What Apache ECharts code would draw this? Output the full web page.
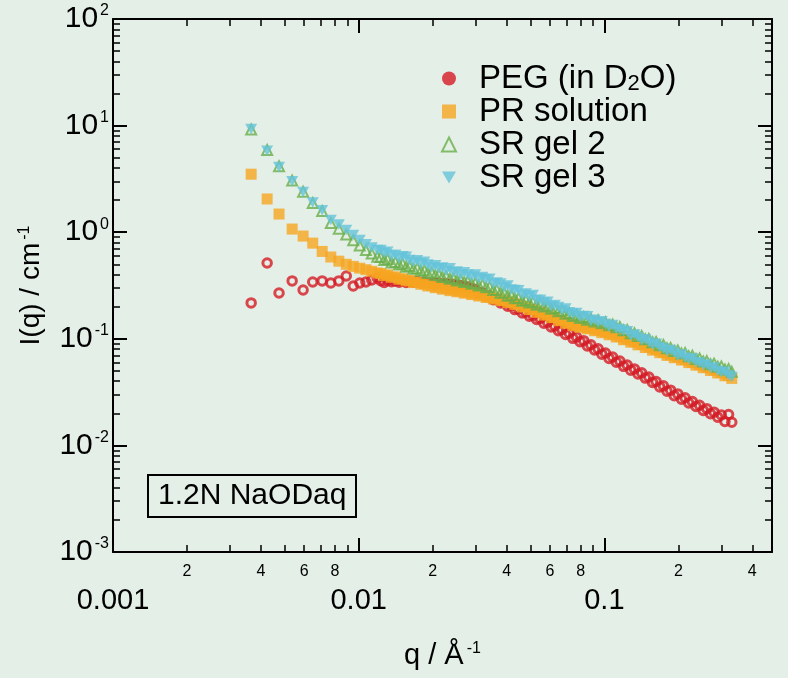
<!DOCTYPE html>
<html><head><meta charset="utf-8">
<script src="https://cdn.jsdelivr.net/npm/echarts@6/dist/echarts.min.js"></script>
<style>html,body{margin:0;padding:0;background:#e4efe7}#c{width:788px;height:678px}</style>
</head><body><div id="c"></div>
<script>
// ---- data ----
const q = [0.00365,0.00424,0.00474,0.00536,0.00594,0.0065,0.0071,0.0077,0.0083,0.0089,
0.0095,0.0101,0.0107,0.0113,0.0119,
0.0123,0.0127,0.0131,0.0136,0.0141,0.0146,0.0151,0.0156,0.0161,0.0167,
0.0173,0.0179,0.0185,0.0191,0.0198,0.0205,0.0212,0.0219,0.0227,0.0235,
0.0243,0.0251,0.026,0.0269,0.0278,0.0288,0.0298,0.0308,0.0319,0.033,
0.0341,0.0353,0.0365,0.0378,0.0391,0.0404,0.0418,0.0432,0.0447,0.0463,
0.0479,0.0495,0.0512,0.053,0.0548,0.0567,0.0587,0.0607,0.0628,0.065,
0.0672,0.0695,0.0719,0.0744,0.077,0.0796,0.0824,0.0852,0.0881,0.0912,
0.0943,0.0976,0.101,0.1045,0.108,0.1118,0.1156,0.1196,0.1238,0.128,
0.1325,0.137,0.1418,0.1467,0.1517,0.157,0.1624,0.168,0.1738,0.1798,
0.186,0.1924,0.199,0.2059,0.213,0.2204,0.228,0.2359,0.244,0.2525,
0.2612,0.2702,0.2795,0.2892,0.2992,0.3095,0.3202,0.33];
const pegI = [0.217,0.514,0.269,0.349,0.287,0.341,0.349,0.334,0.349,0.388,
0.313,0.334,0.341,0.356,0.372,
0.35,0.338,0.352,0.343,0.349,0.34,0.347,0.338,0.344,0.339,
0.345,0.336,0.341,0.334,0.338,0.331,0.334,0.327,0.329,0.322,
0.323,0.316,0.316,0.309,0.306,0.297,0.29,0.27,0.27,0.25,
0.253,0.233,0.236,0.217,0.22,0.202,0.205,0.188,0.191,0.175,
0.178,0.163,0.166,0.152,0.155,0.14,0.143,0.129,0.132,0.119,
0.122,0.11,0.113,0.101,0.104,0.094,0.096,0.0855,0.088,0.0785,
0.0805,0.0718,0.0735,0.0655,0.0675,0.0602,0.0618,0.0552,0.0568,0.0508,
0.0522,0.0468,0.048,0.0428,0.0438,0.039,0.0398,0.0354,0.0362,0.0322,
0.033,0.0293,0.0304,0.0271,0.028,0.025,0.0258,0.0232,0.0238,0.0213,
0.0221,0.0198,0.0205,0.0184,0.0193,0.0168,0.0195,0.0165];
const prI = [3.5,2.05,1.48,1.07,0.92,0.79,0.66,0.585,0.535,0.50,
0.478,0.46,0.445,0.43,0.415,
0.41,0.392,0.398,0.378,0.381,0.362,0.366,0.349,0.353,0.337,
0.34,0.325,0.328,0.313,0.316,0.302,0.306,0.292,0.297,0.283,
0.289,0.276,0.281,0.268,0.273,0.26,0.265,0.252,0.257,0.244,
0.249,0.236,0.24,0.228,0.23,0.219,0.221,0.209,0.212,0.199,
0.2,0.188,0.189,0.177,0.179,0.167,0.168,0.158,0.159,0.148,
0.15,0.14,0.141,0.133,0.135,0.128,0.131,0.124,0.126,0.119,
0.121,0.114,0.116,0.109,0.111,0.104,0.105,0.098,0.0995,0.093,
0.094,0.0878,0.0888,0.0828,0.0838,0.0783,0.0792,0.0741,0.0748,0.0699,
0.0708,0.0665,0.0674,0.0632,0.0638,0.0598,0.0603,0.0566,0.0571,0.0536,
0.054,0.0505,0.051,0.0478,0.0482,0.045,0.0455,0.0425];
const gel2I = [9.2,5.9,4.15,3.05,2.4,1.88,1.58,1.22,1.08,0.95,
0.84,0.75,0.68,0.63,0.59,
0.585,0.55,0.56,0.52,0.525,0.498,0.505,0.474,0.482,0.455,
0.46,0.436,0.44,0.415,0.42,0.397,0.401,0.38,0.387,0.366,
0.372,0.353,0.36,0.341,0.347,0.328,0.334,0.317,0.322,0.305,
0.307,0.287,0.289,0.27,0.272,0.254,0.257,0.24,0.241,0.228,
0.231,0.219,0.222,0.209,0.214,0.201,0.204,0.191,0.194,0.181,
0.184,0.172,0.175,0.164,0.167,0.157,0.16,0.151,0.154,0.145,
0.149,0.14,0.143,0.134,0.136,0.128,0.129,0.12,0.121,0.113,
0.113,0.106,0.106,0.099,0.0995,0.093,0.0935,0.087,0.0875,0.0815,
0.0822,0.077,0.0778,0.0728,0.0735,0.0686,0.0693,0.0648,0.0655,0.0612,
0.0618,0.0578,0.0585,0.0546,0.0551,0.0515,0.0522,0.049];
const gel3I = [9.3,5.8,4.1,3.0,2.38,1.9,1.61,1.30,1.18,1.05,
0.94,0.845,0.77,0.72,0.68,
0.68,0.64,0.655,0.605,0.615,0.57,0.595,0.59,0.55,0.525,
0.545,0.508,0.527,0.497,0.466,0.49,0.458,0.466,0.434,0.46,
0.422,0.428,0.398,0.42,0.401,0.385,0.401,0.368,0.38,0.361,
0.366,0.33,0.337,0.331,0.305,0.317,0.29,0.287,0.286,0.259,
0.266,0.25,0.258,0.231,0.233,0.219,0.223,0.202,0.207,0.199,
0.185,0.192,0.177,0.171,0.175,0.161,0.164,0.163,0.147,0.151,
0.142,0.146,0.138,0.13,0.135,0.124,0.123,0.119,0.118,0.107,
0.11,0.104,0.097,0.099,0.0935,0.0875,0.09,0.0835,0.0812,0.0765,
0.0785,0.0742,0.0695,0.0712,0.0668,0.0643,0.0652,0.0602,0.0598,0.0565,
0.0574,0.0531,0.0538,0.0502,0.0485,0.0492,0.0455,0.0438];
const seriesNames = ['PEG (in D2O)','PR solution','SR gel 2','SR gel 3'];
const xMajorLabels = ['0.001','0.01','0.1'];
const xDecades = [-3,-2,-1];
const xMinorTickDigits = [2,3,4,5,6,7,8,9];
const xMinorLabelDigits = [2,4,6,8];
const yExponents = [-3,-2,-1,0,1,2];
const yMinorTickDigits = [2,3,4,5,6,7,8,9];
const boxText = '1.2N NaODaq';

// ---- chart ----
const FONT = '"Liberation Sans", Arial, Helvetica, sans-serif';
const BG = '#e4efe7';
const RED = '#d41c25', ORANGE = '#f6a521', GREEN = '#6aaf4a', CYAN = '#64c3d9';
const DOWN_TRI = 'path://M0,0L20,0L10,17.3Z';
const xMin = 0.001, xMax = 0.481, yMin = 0.001, yMax = 100;
const xMaxLog = Math.log10(xMax);
function minorVals(decades, digits, maxLog) {
  const out = [];
  decades.forEach(d => digits.forEach(k => {
    const v = Math.log10(k) + d;
    if (v <= maxLog + 1e-9) out.push(v);
  }));
  return out;
}
const xMinorTicks = minorVals(xDecades, xMinorTickDigits, xMaxLog);
const xMinorLabels = minorVals(xDecades, xMinorLabelDigits, xMaxLog);
const yMinorTicks = minorVals(yExponents.slice(0, -1), yMinorTickDigits, 2);
const isDecade = v => Math.abs(Math.log10(v) - Math.round(Math.log10(v))) < 1e-6;

const black = '#000';
const majorTick = {show: true, inside: true, length: 14, lineStyle: {color: black, width: 2}};
const minorTickBase = {show: true, inside: true, length: 7, lineStyle: {color: black, width: 1.5}};
const frameLine = {show: true, onZero: false, lineStyle: {color: black, width: 2}};

const chart = echarts.init(document.getElementById('c'), null, {renderer: 'canvas'});
const mk = arr => q.map((x, i) => [x, arr[i]]);

const option = {
  backgroundColor: BG,
  animation: false,
  textStyle: {fontFamily: FONT},
  grid: {left: 113, right: 16, top: 19, bottom: 126, containLabel: false},
  title: {
    text: boxText, left: 148, top: 475,
    borderColor: black, borderWidth: 2, padding: [6, 10, 6, 10],
    textStyle: {fontSize: 30, fontWeight: 'normal', color: black, fontFamily: FONT}
  },
  legend: {
    orient: 'vertical', left: 436, top: 57, itemWidth: 14, itemHeight: 14, itemGap: 0,
    data: [
      {name: seriesNames[0], icon: 'circle', itemStyle: {color: RED, borderWidth: 0}},
      {name: seriesNames[1], icon: 'rect'},
      {name: seriesNames[2], icon: 'triangle', itemStyle: {color: BG, borderColor: GREEN, borderWidth: 2}},
      {name: seriesNames[3], icon: DOWN_TRI}
    ],
    formatter: name => name === seriesNames[0] ? '{a|PEG (in D}{s|2}{a|O)}' : '{a|' + name + '}',
    textStyle: {
      fontFamily: FONT, color: black, fontSize: 33, lineHeight: 33, height: 33, padding: [0, 0, 0, 18],
      rich: {
        a: {fontSize: 33, lineHeight: 33, fontFamily: FONT, color: black},
        s: {fontSize: 22, lineHeight: 33, verticalAlign: 'bottom', fontFamily: FONT, color: black}
      }
    }
  },
  xAxis: [
    {
      type: 'log', logBase: 10, min: xMin, max: xMax, position: 'bottom', gridIndex: 0,
      axisLine: frameLine, axisTick: majorTick, splitLine: {show: false}, minorTick: {show: false},
      axisLabel: {
        fontSize: 29, color: black, margin: 34, fontFamily: FONT,
        formatter: v => isDecade(v) ? xMajorLabels[Math.round(Math.log10(v)) + 3] || '' : ''
      },
      name: '{t|q / Å}{s|-1}', nameLocation: 'middle', nameGap: 89,
      nameTextStyle: {
        rich: {
          t: {fontSize: 29, color: black, fontFamily: FONT},
          s: {fontSize: 16, color: black, fontFamily: FONT, verticalAlign: 'top', padding: [0, 0, 12, 3]}
        }
      }
    },
    {
      type: 'value', min: -3, max: xMaxLog, position: 'bottom', gridIndex: 0,
      axisLine: {show: false, onZero: false},
      axisTick: Object.assign({}, minorTickBase, {customValues: xMinorTicks}),
      splitLine: {show: false},
      axisLabel: {
        show: true, customValues: xMinorLabels, fontSize: 16, color: black, margin: 12, fontFamily: FONT,
        formatter: v => String(Math.round(Math.pow(10, v - Math.floor(v + 1e-9))))
      }
    },
    {
      type: 'log', logBase: 10, min: xMin, max: xMax, position: 'top', gridIndex: 0,
      axisLine: frameLine, axisTick: majorTick, splitLine: {show: false}, axisLabel: {show: false}
    },
    {
      type: 'value', min: -3, max: xMaxLog, position: 'top', gridIndex: 0,
      axisLine: {show: false, onZero: false},
      axisTick: Object.assign({}, minorTickBase, {customValues: xMinorTicks}),
      splitLine: {show: false}, axisLabel: {show: false}
    }
  ],
  yAxis: [
    {
      type: 'log', logBase: 10, min: yMin, max: yMax, position: 'left', gridIndex: 0,
      axisLine: frameLine, axisTick: majorTick, splitLine: {show: false}, minorTick: {show: false},
      axisLabel: {
        margin: 4, color: black,
        formatter: v => '{b|10}{e|' + Math.round(Math.log10(v)) + '}',
        rich: {
          b: {fontSize: 30, color: black, fontFamily: FONT, lineHeight: 32},
          e: {fontSize: 16, color: black, fontFamily: FONT, verticalAlign: 'top', lineHeight: 32, padding: [0, 0, 10, 2]}
        }
      },
      name: '{t|I(q) / cm}{s|-1}', nameLocation: 'middle', nameGap: 68, nameRotate: 90,
      nameTextStyle: {
        rich: {
          t: {fontSize: 28, color: black, fontFamily: FONT},
          s: {fontSize: 16, color: black, fontFamily: FONT, verticalAlign: 'top', padding: [0, 0, 12, 3]}
        }
      }
    },
    {
      type: 'value', min: -3, max: 2, position: 'left', gridIndex: 0,
      axisLine: {show: false, onZero: false},
      axisTick: Object.assign({}, minorTickBase, {customValues: yMinorTicks}),
      splitLine: {show: false}, axisLabel: {show: false}
    },
    {
      type: 'log', logBase: 10, min: yMin, max: yMax, position: 'right', gridIndex: 0,
      axisLine: frameLine, axisTick: majorTick, splitLine: {show: false}, axisLabel: {show: false}
    },
    {
      type: 'value', min: -3, max: 2, position: 'right', gridIndex: 0,
      axisLine: {show: false, onZero: false},
      axisTick: Object.assign({}, minorTickBase, {customValues: yMinorTicks}),
      splitLine: {show: false}, axisLabel: {show: false}
    }
  ],
  series: [
    {
      name: seriesNames[0], type: 'scatter', xAxisIndex: 0, yAxisIndex: 0, data: mk(pegI),
      symbol: 'circle', symbolSize: 8.5,
      itemStyle: {color: 'rgba(0,0,0,0)', borderColor: RED, borderWidth: 3}
    },
    {
      name: seriesNames[1], type: 'scatter', xAxisIndex: 0, yAxisIndex: 0, data: mk(prI),
      symbol: 'rect', symbolSize: 11, itemStyle: {color: ORANGE}
    },
    {
      name: seriesNames[2], type: 'scatter', xAxisIndex: 0, yAxisIndex: 0, data: mk(gel2I),
      symbol: 'triangle', symbolSize: 10,
      itemStyle: {color: 'rgba(0,0,0,0)', borderColor: GREEN, borderWidth: 2}
    },
    {
      name: seriesNames[3], type: 'scatter', xAxisIndex: 0, yAxisIndex: 0, data: mk(gel3I),
      symbol: DOWN_TRI, symbolSize: [12, 10.5], itemStyle: {color: CYAN}
    }
  ]
};
chart.setOption(option);
</script></body></html>
